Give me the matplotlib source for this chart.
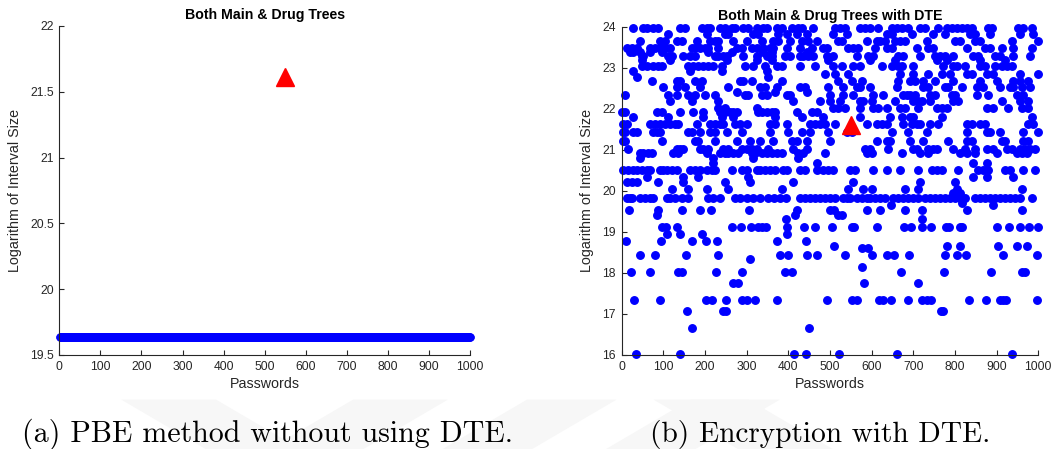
import matplotlib
matplotlib.use("Agg")
import matplotlib.pyplot as plt
from matplotlib.patches import Polygon
from matplotlib.ticker import FormatStrFormatter
import numpy as np

# panel (a): every password gets the same interval size
plain_x = np.arange(1, 1001)
plain_y = np.full(1000, 19.64)
real_x = 550
real_y = 21.61

# panel (b): interval sizes with DTE, grouped by the (discrete) level they sit on
upper_levels = [23.96, 23.81, 23.65, 23.49, 23.39, 23.29, 23.19, 23.03, 22.92,
                22.85, 22.78, 22.68, 22.54, 22.40, 22.33, 22.19, 22.03]
upper_x = [
    [28, 52, 60, 76, 88, 140, 152, 192, 204, 212, 236, 248, 264, 272, 292, 304, 324, 340, 348,
     372, 384, 408, 424, 432, 460, 512, 524, 536, 572, 584, 596, 616, 648, 660, 672, 688, 716,
     728, 760, 780, 792, 804, 816, 828, 840, 880, 888, 952, 964, 984],
    [112, 204, 248, 256, 316, 328, 376, 396, 420, 444, 508, 540, 636, 648, 696, 748, 776, 836,
     848, 884, 956, 988],
    [44, 92, 104, 132, 144, 180, 212, 224, 232, 268, 300, 336, 364, 376, 404, 432, 448, 468, 520,
     528, 588, 612, 620, 632, 656, 668, 680, 732, 800, 812, 848, 860, 936, 1000],
    [12, 24, 36, 68, 80, 92, 104, 116, 168, 176, 188, 200, 208, 232, 276, 288, 312, 324, 340, 356,
     364, 396, 428, 456, 484, 492, 544, 556, 568, 608, 636, 648, 708, 736, 748, 828, 872, 884,
     912, 940, 984],
    [20, 28, 44, 68, 96, 208, 264, 340, 360, 444],
    [48, 52, 112, 120, 148, 164, 176, 224, 232, 244, 252, 292, 324, 348, 360, 392, 404, 428, 436,
     448, 460, 492, 508, 564, 592, 604, 664, 676, 716, 752, 764, 776, 796, 844, 856, 896, 908,
     940, 980],
    [48, 116, 252, 324, 360, 496, 596, 656, 756, 780, 860, 920],
    [48, 60, 76, 88, 96, 160, 172, 184, 196, 208, 220, 240, 296, 316, 344, 372, 384, 428, 464,
     508, 528, 556, 572, 624, 648, 664, 672, 700, 772, 796, 804, 824, 860, 872, 896, 912, 924, 936],
    [28, 164, 240, 348],
    [488, 512, 544, 668, 700, 736, 768, 788, 828, 840, 876, 892, 956, 1000],
    [36, 352],
    [72, 132, 140, 176, 192, 284, 292, 312, 384, 520, 552, 576, 664, 692, 704, 724, 752, 796, 860,
     900, 940, 956, 976],
    [100, 132, 152, 188, 256, 332, 344, 372, 428, 440, 496, 532, 564, 572, 596, 660, 724, 736,
     776, 784, 816, 852, 868, 908, 932, 940, 960, 980],
    [276, 368, 444],
    [8, 112, 132, 160, 176, 200, 224, 296, 304, 336, 348, 396, 404, 500, 532, 556, 604, 628, 676,
     684, 692, 704, 740, 752, 792, 800, 852, 880, 948, 964],
    [116, 168, 232, 412, 476, 500, 524, 572, 580, 600, 656, 700, 712, 720, 740, 796, 808, 912,
     956, 976],
    [232, 248, 324, 508, 520, 536, 572, 604, 616, 636, 668, 680, 712, 756, 768, 780, 876, 892,
     928, 960, 976],
]

middle_levels = [21.91, 21.81, 21.63, 21.44, 21.22, 21.03, 20.91, 20.79, 20.69, 20.51,
                 20.34, 20.22, 20.04, 19.95]
middle_x = [
    [0, 8, 84, 96, 140, 172, 196, 236, 248, 260, 268, 276, 328, 336, 348, 360, 368, 420, 456, 468],
    [28, 112, 196, 240, 268, 368, 432, 484, 572, 644, 672, 692, 700, 768, 984],
    [4, 12, 68, 80, 92, 104, 116, 128, 136, 180, 212, 224, 236, 244, 272, 284, 300, 356, 368, 396,
     452, 464, 476, 488, 512, 588, 612, 624, 636, 676, 696, 708, 716, 740, 760, 828, 840, 860,
     872, 976, 988],
    [4, 8, 28, 36, 76, 84, 92, 160, 168, 188, 212, 224, 252, 288, 356, 400, 432, 452, 496, 540,
     552, 648, 688, 732, 828, 876, 884, 908, 964, 1000],
    [4, 8, 96, 176, 184, 224, 276, 308, 332, 364, 408, 420, 444, 500, 612, 636, 644, 692, 724,
     784, 828, 840, 912, 920, 964, 976],
    [16, 132, 140, 148, 188, 196, 208, 244, 256, 288, 300, 312, 324, 352, 412, 444, 584, 596, 640,
     700, 708, 736, 748, 756, 796, 824, 848, 876, 892, 924, 936, 956, 968, 980, 992],
    [44, 52, 64, 72, 124, 136, 204, 236, 248, 256, 268, 280, 312, 320, 336, 348, 360, 372, 384,
     424, 436, 488, 588, 600, 672, 716, 736, 812, 828, 848, 900, 948, 960, 972],
    [44, 220, 316, 424],
    [220, 468, 844, 876],
    [4, 16, 28, 36, 48, 60, 68, 92, 100, 108, 120, 132, 164, 176, 188, 204, 216, 224, 264, 288,
     300, 324, 332, 344, 356, 368, 388, 396, 428, 440, 468, 484, 496, 508, 548, 560, 604, 636,
     668, 712, 744, 756, 768, 808, 856, 868, 880, 920, 932, 964, 992],
    [60, 148, 184, 304, 844, 876, 940],
    [12, 24, 36, 88, 148, 248, 308, 412, 556, 716, 800],
    [120, 160, 204, 256, 384, 544, 580, 600, 680, 712, 804, 960],
    [796, 812],
]

lower_levels = [19.82, 19.70, 19.66, 19.53, 19.41, 19.31, 19.13, 18.96, 18.78, 18.66, 18.60,
                18.44, 18.34, 18.15, 18.01, 17.75, 17.34, 17.07, 16.66, 16.02]
lower_x = [
    [12, 20, 26, 44, 56, 68, 76, 108, 116, 128, 146, 160, 208, 220, 236, 272, 284, 300, 316, 332,
     352, 366, 380, 394, 428, 440, 452, 464, 476, 488, 500, 512, 532, 540, 548, 564, 576, 588,
     596, 608, 620, 632, 652, 664, 676, 688, 700, 712, 728, 740, 752, 764, 776, 788, 800, 812,
     824, 848, 860, 872, 884, 896, 908, 920, 932, 944, 956, 984],
    [816],
    [646, 892],
    [18, 88, 146, 188, 214, 306, 422, 500, 510, 588, 620, 680, 720, 830, 962],
    [84, 416, 520, 528],
    [394, 720],
    [98, 106, 134, 266, 286, 310, 328, 338, 346, 396, 438, 464, 506, 552, 558, 612, 678, 694, 720,
     742, 778, 786, 812, 818, 900, 930, 956, 978, 1000],
    [108, 140, 192, 396],
    [10, 94, 168, 202, 228, 372, 442],
    [510, 780, 812, 904, 948, 974],
    [578, 592],
    [44, 80, 154, 232, 380, 400, 444, 468, 536, 602, 636, 654, 690, 776, 804, 826, 916, 997],
    [308],
    [578],
    [22, 68, 136, 146, 226, 290, 392, 408, 670, 774, 886, 960, 968],
    [268, 280, 582, 712],
    [30, 92, 202, 216, 250, 290, 300, 320, 372, 492, 554, 564, 618, 628, 646, 688, 722, 732, 742,
     834, 874, 908, 916, 922, 996],
    [156, 244, 250, 766, 772],
    [168, 450],
    [34, 140, 414, 442, 522, 660, 938],
]

dte_x = []
dte_y = []
for levels, xs in [(upper_levels, upper_x), (middle_levels, middle_x), (lower_levels, lower_x)]:
    for lv, row in zip(levels, xs):
        dte_x += row
        dte_y += [lv] * len(row)

axis_grey = "#262626"
plt.rcParams["font.family"] = ["Liberation Sans", "DejaVu Sans"]

fig = plt.figure(figsize=(10.54, 4.49), dpi=100)
fig.patch.set_facecolor("white")

# faint watermark stripes of the page behind the figures
wm = "#f7f7f7"
for pts in [
    [(0.115, 0.11), (0.205, 0.11), (0.285, 0.0), (0.195, 0.0)],
    [(0.255, 0.0), (0.345, 0.0), (0.425, 0.11), (0.335, 0.11)],
    [(0.50, 0.11), (0.585, 0.11), (0.505, 0.0), (0.42, 0.0)],
    [(0.575, 0.0), (0.66, 0.0), (0.74, 0.11), (0.655, 0.11)],
    [(0.70, 0.0), (0.79, 0.0), (0.71, 0.11), (0.62, 0.11)],
]:
    fig.patches.append(Polygon(pts, closed=True, transform=fig.transFigure,
                               facecolor=wm, edgecolor="none", zorder=-5))


def style_axes(ax):
    for side in ["top", "right"]:
        ax.spines[side].set_visible(False)
    for side in ["left", "bottom"]:
        ax.spines[side].set_color(axis_grey)
        ax.spines[side].set_linewidth(0.8)
    ax.tick_params(direction="in", length=3.5, width=0.8, colors=axis_grey,
                   labelsize=8.7, pad=4)
    ax.set_xlim(0, 1000)
    ax.set_xticks(np.arange(0, 1001, 100))
    ax.set_xlabel("Passwords", fontsize=10.3, color=axis_grey, labelpad=3)
    ax.set_ylabel("Logarithm of Interval Size", fontsize=10.3, color=axis_grey, labelpad=6)


ax1 = fig.add_axes([0.0563, 0.2094, 0.3897, 0.7327])
ax1.plot(plain_x, plain_y, "o", color="blue", ms=5.0, mec="blue", clip_on=False)
ax1.plot(real_x, real_y, "^", color="red", ms=13, mec="red", clip_on=False)
ax1.set_ylim(19.5, 22)
ax1.set_yticks(np.arange(19.5, 22.01, 0.5))
ax1.yaxis.set_major_formatter(FormatStrFormatter("%g"))
ax1.set_title("Both Main & Drug Trees", fontsize=10.2, fontweight="bold", pad=5)
style_axes(ax1)

ax2 = fig.add_axes([0.5898, 0.2094, 0.3953, 0.7312])
ax2.plot(dte_x, dte_y, "o", color="blue", ms=5.4, mec="blue", ls="none", clip_on=False)
ax2.plot(real_x, real_y, "^", color="red", ms=13, mec="red", clip_on=False)
ax2.set_ylim(16, 24)
ax2.set_yticks(np.arange(16, 24.1, 1))
ax2.set_title("Both Main & Drug Trees with DTE", fontsize=10.2, fontweight="bold", pad=5)
style_axes(ax2)

fig.text(0.254, 1 - 442 / 449, "(a) PBE method without using DTE.", family="cmr10",
         fontsize=21.6, ha="center", va="baseline")
fig.text(0.778, 1 - 442 / 449, "(b) Encryption with DTE.", family="cmr10",
         fontsize=21.2, ha="center", va="baseline")

fig.savefig("out.png", dpi=100)
